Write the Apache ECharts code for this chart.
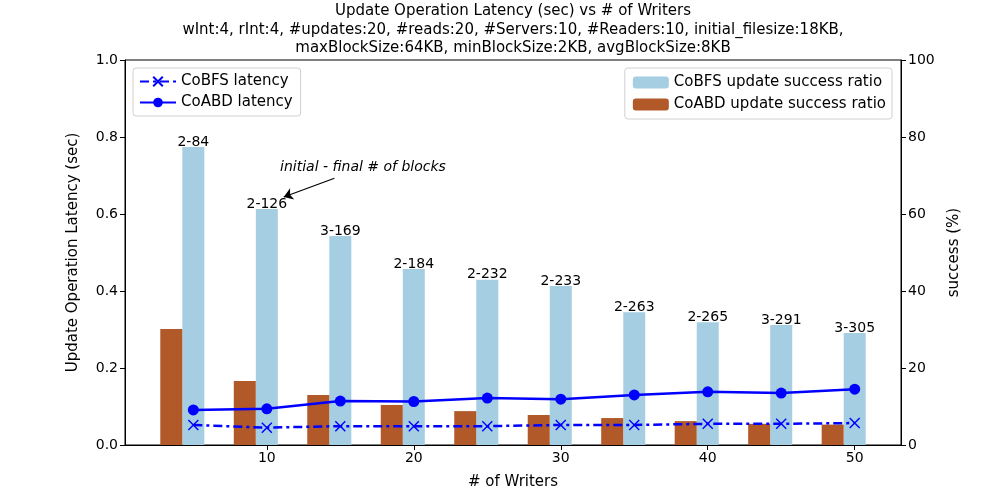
<!DOCTYPE html>
<html>
<head>
<meta charset="utf-8">
<script src="https://cdn.jsdelivr.net/npm/echarts@6/dist/echarts.min.js"></script>
<style>
html, body { margin: 0; padding: 0; background: #fff; }
#chart { width: 1000px; height: 500px; }
</style>
</head>
<body>
<div id="chart"></div>
<script>
var FONT = "DejaVu Sans";
var BLUE = "#0000ff";

// writers on the x axis
var writers = [5, 10, 15, 20, 25, 30, 35, 40, 45, 50];
var xTicks = [10, 20, 30, 40, 50];
// latency (sec)
var cobfsLatency = [0.052, 0.045, 0.049, 0.049, 0.049, 0.052, 0.052, 0.055, 0.055, 0.057];
var coabdLatency = [0.091, 0.094, 0.114, 0.113, 0.122, 0.119, 0.130, 0.138, 0.135, 0.145];
// update success ratio (%)
var cobfsSuccess = [77.4, 61.3, 54.3, 45.7, 42.9, 41.3, 34.5, 31.9, 31.2, 29.1];
var coabdSuccess = [30.1, 16.6, 13.0, 10.4, 8.8, 7.8, 7.0, 6.2, 5.5, 5.3];
// initial - final # of blocks
var blockLabels = ["2-84", "2-126", "3-169", "2-184", "2-232", "2-233", "2-263", "2-265", "3-291", "3-305"];

var BAR_SHIFT = 1.5;

var chart = echarts.init(document.getElementById("chart"));

var pairs = function(xs, ys, shift) {
	return xs.map(function(x, i) {
		return [x + (shift || 0), ys[i]];
	});
};

var option = {
	animation: false,
	textStyle: { fontFamily: FONT },
	title: {
		text: "Update Operation Latency (sec) vs # of Writers\n" +
			"wInt:4, rInt:4, #updates:20, #reads:20, #Servers:10, #Readers:10, initial_filesize:18KB,\n" +
			"maxBlockSize:64KB, minBlockSize:2KB, avgBlockSize:8KB",
		left: 513,
		textAlign: "center",
		top: 2,
		padding: 0,
		textStyle: {
			fontFamily: FONT,
			fontSize: 15,
			fontWeight: "normal",
			color: "#000",
			lineHeight: 18.5
		}
	},
	legend: [
		{
			data: ["CoBFS latency", "CoABD latency"],
			orient: "vertical",
			left: 133,
			top: 68,
			itemWidth: 36,
			itemHeight: 12,
			itemGap: 6,
			padding: [6, 8, 6, 6],
			borderColor: "#d0d0d0",
			borderWidth: 1,
			borderRadius: 3,
			textStyle: { fontFamily: FONT, fontSize: 15, color: "#000" }
		},
		{
			data: ["CoBFS update success ratio", "CoABD update success ratio"],
			orient: "vertical",
			right: 108,
			top: 68,
			itemWidth: 36,
			itemHeight: 12,
			itemGap: 7,
			padding: [7, 6, 7, 8],
			borderColor: "#d0d0d0",
			borderWidth: 1,
			borderRadius: 3,
			textStyle: { fontFamily: FONT, fontSize: 15, color: "#000" }
		}
	],
	grid: {
		left: 125,
		right: 99,
		top: 60,
		bottom: 55,
		show: true,
		borderColor: "#000",
		borderWidth: 1
	},
	xAxis: {
		type: "value",
		min: 0.35,
		max: 53.15,
		name: "# of Writers",
		nameLocation: "middle",
		nameGap: 30,
		nameTextStyle: { fontFamily: FONT, fontSize: 15, color: "#000" },
		splitLine: { show: false },
		axisLine: { lineStyle: { color: "#000" } },
		axisTick: { customValues: xTicks, length: 5, lineStyle: { color: "#000" } },
		axisLabel: { customValues: xTicks, fontFamily: FONT, fontSize: 14, color: "#000", margin: 6 }
	},
	yAxis: [
		{
			type: "value",
			min: 0,
			max: 1,
			interval: 0.2,
			name: "Update Operation Latency (sec)",
			nameLocation: "middle",
			nameGap: 44,
			nameTextStyle: { fontFamily: FONT, fontSize: 15, color: "#000" },
			splitLine: { show: false },
			axisLine: { show: true, lineStyle: { color: "#000" } },
			axisTick: { show: true, length: 5, lineStyle: { color: "#000" } },
			axisLabel: {
				fontFamily: FONT, fontSize: 14, color: "#000", margin: 7,
				formatter: function(v) { return v.toFixed(1); }
			}
		},
		{
			type: "value",
			min: 0,
			max: 100,
			interval: 20,
			position: "right",
			name: "success (%)",
			nameLocation: "middle",
			nameGap: 46,
			nameRotate: 90,
			nameTextStyle: { fontFamily: FONT, fontSize: 15, color: "#000" },
			splitLine: { show: false },
			axisLine: { show: true, lineStyle: { color: "#000" } },
			axisTick: { show: true, length: 5, lineStyle: { color: "#000" } },
			axisLabel: { fontFamily: FONT, fontSize: 14, color: "#000", margin: 7 }
		}
	],
	series: [
		{
			name: "CoBFS update success ratio",
			type: "bar",
			yAxisIndex: 1,
			barWidth: 22,
			barGap: "-100%",
			itemStyle: { color: "#a6cee3" },
			data: pairs(writers, cobfsSuccess, 0),
			label: {
				show: true,
				position: "top",
				distance: -2,
				fontFamily: FONT,
				fontSize: 14,
				color: "#000",
				formatter: function(p) { return blockLabels[p.dataIndex]; }
			},
			markPoint: {
				silent: true,
				symbol: "rect",
				symbolSize: 0,
				label: {
					show: true,
					position: "right",
					distance: 0,
					fontFamily: FONT,
					fontSize: 14,
					fontStyle: "italic",
					color: "#000",
					formatter: "initial - final # of blocks"
				},
				data: [{ coord: [10.9, 72.2] }]
			},
			markLine: {
				silent: true,
				symbol: ["none", "arrow"],
				symbolSize: 9,
				lineStyle: { color: "#000", width: 1.2, type: "solid" },
				label: { show: false },
				data: [[{ coord: [14.6, 69.3] }, { coord: [11.15, 64.4] }]]
			},
			z: 1
		},
		{
			name: "CoABD update success ratio",
			type: "bar",
			yAxisIndex: 1,
			barWidth: 22,
			barGap: "-100%",
			itemStyle: { color: "#b15928" },
			data: pairs(writers, coabdSuccess, -BAR_SHIFT),
			z: 1
		},
		{
			name: "CoBFS latency",
			type: "line",
			yAxisIndex: 0,
			data: pairs(writers, cobfsLatency, 0),
			symbol: "path://M0,0L10,10M10,0L0,10",
			symbolSize: 10,
			showAllSymbol: true,
			itemStyle: { color: BLUE, borderColor: BLUE, borderWidth: 1.4 },
			lineStyle: { color: BLUE, width: 2.5, type: [9, 4, 3, 4] },
			z: 3
		},
		{
			name: "CoABD latency",
			type: "line",
			yAxisIndex: 0,
			data: pairs(writers, coabdLatency, 0),
			symbol: "circle",
			symbolSize: 11,
			showAllSymbol: true,
			itemStyle: { color: BLUE },
			lineStyle: { color: BLUE, width: 2.5 },
			z: 3
		}
	]
};

chart.setOption(option);
</script>
</body>
</html>
